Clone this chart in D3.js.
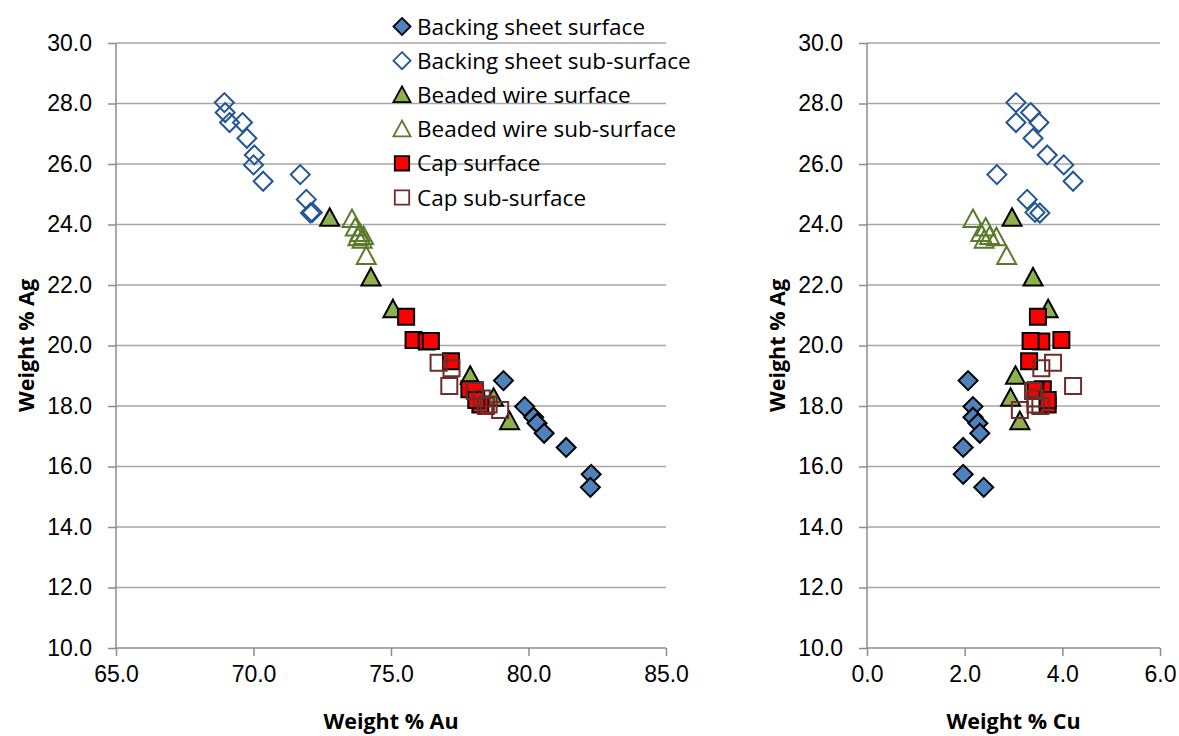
<!DOCTYPE html>
<html lang="en">
<head>
<meta charset="utf-8">
<script src="https://cdn.jsdelivr.net/npm/d3@7"></script>
<style>
  body { margin: 0; background: #fff; }
  svg { font-family: "Open Sans", sans-serif; }
  .grid line { stroke: #a6a6a6; stroke-width: 1.5px; }
  .axis path, .axis line { stroke: #8c8c8c; stroke-width: 1.5px; }
  .axis text { font-size: 23px; fill: #000; }
  .title { font-size: 21.5px; font-weight: bold; }
  .legend text { font-size: 22.5px; }
</style>
</head>
<body>
<svg width="1179" height="736"></svg>
<script>
// each point: [Au, Cu, Ag] weight %
var seriesNames = ["Backing sheet surface", "Backing sheet sub-surface", "Beaded wire surface",
  "Beaded wire sub-surface", "Cap surface", "Cap sub-surface"];

var backingSurface = [
  [79.09, 2.07, 18.84], [79.86, 2.17, 17.98], [80.19, 2.17, 17.63], [80.31, 2.27, 17.43],
  [80.57, 2.31, 17.10], [81.37, 1.97, 16.63], [82.28, 1.97, 15.74], [82.25, 2.39, 15.31]
];
var backingSub = [
  [68.94, 3.05, 28.03], [68.97, 3.35, 27.70], [69.13, 3.52, 27.37], [69.60, 3.05, 27.37],
  [69.76, 3.40, 26.85], [70.03, 3.69, 26.30], [70.00, 4.03, 25.97], [70.35, 4.22, 25.43],
  [71.70, 2.66, 25.65], [71.92, 3.28, 24.83], [72.07, 3.54, 24.38], [72.14, 3.44, 24.40]
];
var beadedSurface = [
  [72.77, 2.97, 24.22], [74.27, 3.40, 22.25], [75.07, 3.71, 21.20],
  [77.88, 3.04, 19.00], [78.73, 2.94, 18.27], [79.31, 3.13, 17.50]
];
var beadedSub = [
  [73.58, 2.17, 24.18], [73.70, 2.43, 23.90], [73.86, 2.33, 23.72], [74.00, 2.51, 23.62],
  [73.80, 2.65, 23.58], [73.95, 2.40, 23.50], [74.10, 2.86, 22.96]
];
var capSurface = [
  [75.55, 3.50, 20.95], [75.82, 3.98, 20.18], [76.30, 3.57, 20.13], [76.45, 3.35, 20.15],
  [77.18, 3.32, 19.48], [77.85, 3.60, 18.55], [78.05, 3.45, 18.52], [78.25, 3.70, 18.05],
  [78.10, 3.70, 18.20]
];
var capSub = [
  [76.73, 3.81, 19.43], [77.20, 3.57, 19.25], [77.12, 4.22, 18.66], [78.05, 3.40, 18.50],
  [78.30, 3.45, 18.25], [78.45, 3.55, 18.00], [78.55, 3.45, 18.05], [78.97, 3.13, 17.87]
];

var auTicks = [65, 70, 75, 80, 85];
var cuTicks = [0, 2, 4, 6];
var agTicks = [10, 12, 14, 16, 18, 20, 22, 24, 26, 28, 30];

var seriesData = [backingSurface, backingSub, beadedSurface, beadedSub, capSurface, capSub];

var styles = [
  { shape: "diamond", fill: "#4f81bd", stroke: "#000" },
  { shape: "diamond", fill: "none", stroke: "#215594" },
  { shape: "triangle", fill: "#8fb04e", stroke: "#000" },
  { shape: "triangle", fill: "none", stroke: "#5b7a2b" },
  { shape: "square", fill: "#ff0000", stroke: "#000" },
  { shape: "square", fill: "none", stroke: "#6e2c2a" }
];

function markerPath(shape) {
  if (shape == "diamond") return "M0,-9.5L9.5,0L0,9.5L-9.5,0Z";
  if (shape == "triangle") return "M0,-9.5L9.5,8L-9.5,8Z";
  return "M-8,-8H8V8H-8Z";
}

var svg = d3.select("svg");

var y = d3.scaleLinear().domain([10, 30]).range([648, 43]);

function drawPanel(left, right, xDomain, xTicks, xIndex, xTitle) {
  var x = d3.scaleLinear().domain(xDomain).range([left, right]);
  var g = svg.append("g");

  g.append("g").attr("class", "grid")
    .selectAll("line").data(agTicks.slice(1)).enter().append("line")
    .attr("x1", left).attr("x2", right)
    .attr("y1", function(d) { return y(d); })
    .attr("y2", function(d) { return y(d); });

  var yAxis = g.append("g").attr("class", "axis")
    .attr("transform", "translate(" + left + ",0)")
    .call(d3.axisLeft(y).tickValues(agTicks).tickSize(8).tickPadding(16)
      .tickFormat(d3.format(".1f")));
  yAxis.select("path").attr("d", "M0,648V43");

  var xAxis = g.append("g").attr("class", "axis")
    .attr("transform", "translate(0,648)")
    .call(d3.axisBottom(x).tickValues(xTicks).tickSize(8).tickPadding(10)
      .tickFormat(d3.format(".1f")));
  xAxis.select("path").attr("d", "M" + left + ",0H" + right);

  g.append("text").attr("class", "title")
    .attr("x", (left + right) / 2).attr("y", 729)
    .attr("text-anchor", "middle").text(xTitle);

  g.append("text").attr("class", "title")
    .attr("transform", "translate(" + (left - 82) + "," + y(20) + ") rotate(-90)")
    .attr("text-anchor", "middle").text("Weight % Ag");

  seriesData.forEach(function(data, i) {
    g.append("g").selectAll("path").data(data).enter().append("path")
      .attr("d", markerPath(styles[i].shape))
      .attr("transform", function(d) { return "translate(" + x(d[xIndex]) + "," + y(d[2]) + ")"; })
      .attr("fill", styles[i].fill)
      .attr("stroke", styles[i].stroke)
      .attr("stroke-width", 2);
  });
}

drawPanel(116, 666, [65, 85], auTicks, 0, "Weight % Au");
drawPanel(867, 1160, [0, 6], cuTicks, 1, "Weight % Cu");

// legend
var legend = svg.append("g").attr("class", "legend");
var row = legend.selectAll("g").data(seriesNames).enter().append("g")
  .attr("transform", function(d, i) { return "translate(402," + (26.5 + i * 34.2) + ")"; });
row.append("path")
  .attr("d", function(d, i) { return markerPath(styles[i].shape); })
  .attr("transform", "scale(0.9)")
  .attr("fill", function(d, i) { return styles[i].fill == "none" ? "#fff" : styles[i].fill; })
  .attr("stroke", function(d, i) { return styles[i].stroke; })
  .attr("stroke-width", 2);
row.append("text").attr("x", 15).attr("y", 8).text(function(d) { return d; });
</script>
</body>
</html>
